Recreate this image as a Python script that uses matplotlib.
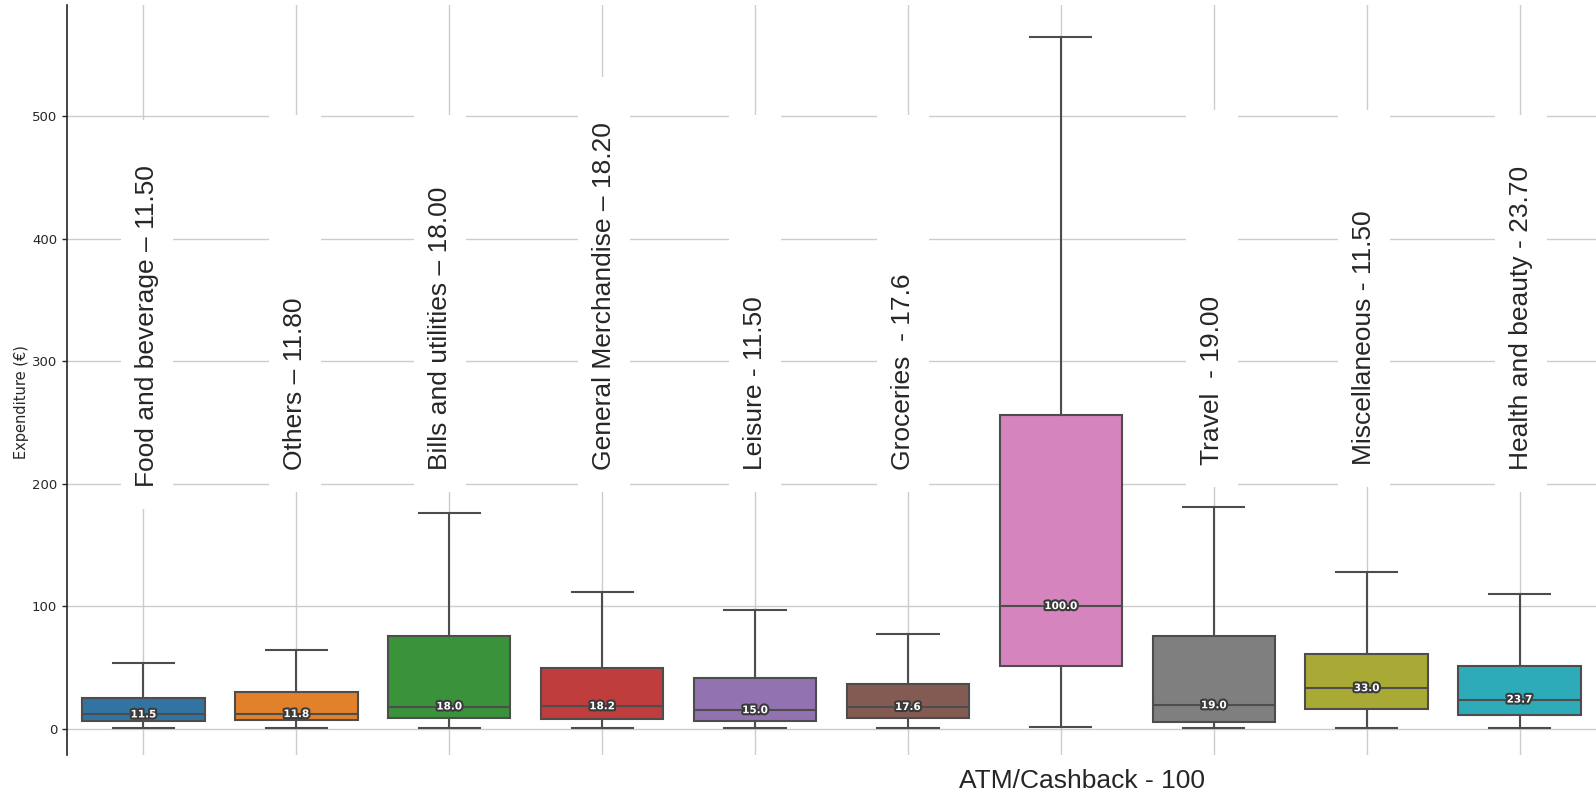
import matplotlib
matplotlib.use("Agg")
import matplotlib.pyplot as plt
import matplotlib.patheffects as pe
from matplotlib.patches import Rectangle
from matplotlib.transforms import IdentityTransform

# spending categories, left to right
categories = ["Food and beverage", "Others", "Bills and utilities", "General Merchandise",
              "Leisure", "Groceries", "ATM/Cashback", "Travel", "Miscellaneous",
              "Health and beauty"]
cat_labels = ["Food and beverage \u2013 11.50", "Others \u2013 11.80",
              "Bills and utilities \u2013 18.00", "General Merchandise \u2013 18.20",
              "Leisure - 11.50", "Groceries  - 17.6", "ATM/Cashback - 100",
              "Travel  - 19.00", "Miscellaneous - 11.50", "Health and beauty - 23.70"]

# box statistics (outliers hidden)
whislo = [0.5, 0.5, 0.5, 0.5, 0.5, 0.5, 1.0, 0.5, 0.5, 0.5]
q1 = [6.0, 6.8, 8.7, 8.2, 6.0, 8.7, 50.7, 5.1, 15.7, 10.8]
med = [11.5, 11.8, 18.0, 18.2, 15.0, 17.6, 100.0, 19.0, 33.0, 23.7]
q3 = [25.0, 29.6, 75.3, 49.2, 41.6, 36.7, 256.0, 75.3, 60.6, 50.8]
whishi = [53.8, 63.9, 175.6, 111.2, 96.5, 77.5, 564.7, 180.5, 128.0, 109.5]

colors = ["#3274a1", "#e1812c", "#3a923a", "#c03d3e", "#9372b2",
          "#845b53", "#d684bd", "#7f7f7f", "#a9aa35", "#2eabb8"]

line_col = "#4d4d4d"

fig = plt.figure(figsize=(15.96, 7.94), dpi=100)
ax = fig.add_axes([67 / 1596, 39 / 794, 1 - 67 / 1596, 750 / 794])

stats = []
for i in range(len(categories)):
    stats.append(dict(whislo=whislo[i], q1=q1[i], med=med[i], q3=q3[i],
                      whishi=whishi[i], fliers=[], label=categories[i]))

bp = ax.bxp(stats, positions=range(len(categories)), widths=0.8, patch_artist=True,
            showfliers=False, capwidths=0.4,
            boxprops=dict(edgecolor=line_col, linewidth=1.5),
            whiskerprops=dict(color=line_col, linewidth=1.5),
            capprops=dict(color=line_col, linewidth=1.5),
            medianprops=dict(color=line_col, linewidth=1.5))
for box, c in zip(bp["boxes"], colors):
    box.set_facecolor(c)

# median value on each box
for i, m in enumerate(med):
    ax.text(i, m, f"{m:.1f}", ha="center", va="center", fontsize=7.5,
            fontweight="bold", color="white", zorder=5,
            path_effects=[pe.withStroke(linewidth=3, foreground="#3a3a3a")])

ax.set_xlim(-0.5, 9.5)
ax.set_ylim(-21.6, 590.8)
ax.set_yticks([0, 100, 200, 300, 400, 500])
ax.set_xticks(range(len(categories)))
ax.set_xticklabels([])
ax.tick_params(axis="x", length=0)
ax.tick_params(axis="y", length=3.5, width=1, color="#262626", labelsize=9.5,
               labelcolor="#262626")
ax.grid(True, color="#cccccc", linewidth=1)
ax.set_axisbelow(True)
for side in ["top", "right", "bottom"]:
    ax.spines[side].set_visible(False)
ax.spines["left"].set_color("#262626")
ax.spines["left"].set_linewidth(1.2)

ax.set_ylabel("Expenditure (\u20ac)", fontsize=10.5, color="#262626")
ax.yaxis.set_label_coords(-0.025, 0.47)

# rotated category captions sitting on white panels
label_y = [197, 211, 211, 211, 211, 211, None, 215, 215, 211]
label_dx = [0.02, -0.01, -0.06, 0.01, 0.0, -0.03, 0.0, -0.01, -0.02, 0.01]
texts = []
for i, lab in enumerate(cat_labels):
    if label_y[i] is None:
        continue
    t = ax.text(i + label_dx[i], label_y[i], lab, rotation=90, ha="center",
                va="bottom", fontsize=19, family="Liberation Sans",
                color="#262626", zorder=4)
    texts.append(t)

# the ATM caption goes under the axis
ax.text(6.14, -43, cat_labels[6], ha="center", va="center", fontsize=19,
        family="Liberation Sans", color="#262626", clip_on=False)

fig.canvas.draw()
r = fig.canvas.get_renderer()
for t in texts:
    bb = t.get_window_extent(r)
    cx = (bb.x0 + bb.x1) / 2
    h = max(377, bb.height + 67)
    rect = Rectangle((cx - 26, bb.y0 - 22), 52, h, transform=IdentityTransform(),
                     facecolor="white", edgecolor="none", zorder=1.5)
    ax.add_artist(rect)

fig.savefig("out.png", dpi=100)
